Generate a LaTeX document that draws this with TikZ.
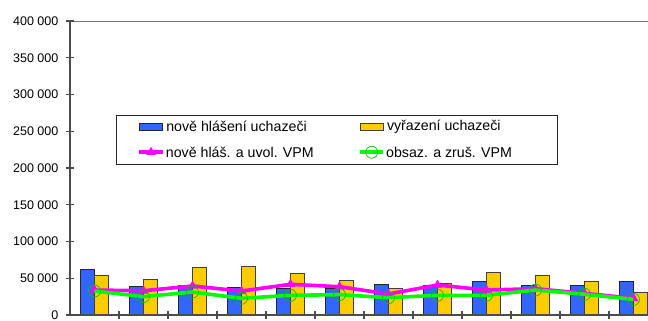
\documentclass[tikz,border=0pt]{standalone}
\usepackage{fontspec}
\setmainfont{Liberation Sans}
\usetikzlibrary{positioning, plotmarks}
\definecolor{barblue}{RGB}{51,102,255}
\definecolor{baryellow}{RGB}{255,204,0}
\definecolor{vpmpink}{RGB}{255,0,255}
\definecolor{vpmgreen}{RGB}{0,255,0}
\tikzset{
x=1pt, y=0.735pt, % one unit up is 1 000 people
font=\fontsize{12.5}{14}\selectfont, % Arial-like labels
blue bar/.style={draw=black!85, line width=0.8pt, fill=barblue},
yellow bar/.style={draw=black!75, line width=0.8pt, fill=baryellow},
axis line/.style={draw=black!70, line width=1.1pt},
pink line/.style={draw=vpmpink, line width=3.6pt, mark=triangle*, mark size=5pt,
  mark options={draw=vpmpink, fill=vpmpink, line width=0.4pt}},
green line/.style={draw=vpmgreen, line width=3.6pt, mark=o, mark size=6pt,
  mark options={draw=vpmgreen!75!black, line width=0.7pt}},
tick label/.style={anchor=east, inner sep=0pt},
key text/.style={anchor=west, inner sep=0pt, font=\fontsize{14.2}{16}\selectfont},
}

\begin{document}
\begin{tikzpicture}
  \useasboundingbox (-70,-6.8) rectangle (578,428.6);
  % bars, one group per month
  \foreach \k/\b/\z in {1/61.6/53.5, 2/38.5/48.0, 3/40.4/64.9, 4/37.7/66.3,
      5/36.3/56.2, 6/36.3/47.2, 7/41.8/35.8, 8/40.0/42.6, 9/46.3/58.1,
      10/39.9/53.5, 11/40.8/46.3, 12/45.3/30.9} {
    \draw[blue bar] ({49*\k-38.5},0) rectangle ({49*\k-24.5},\b);
    \draw[yellow bar] ({49*\k-24.5},0) rectangle ({49*\k-10.8},\z);
  }
  % axes
  \draw[black!55, line width=0.9pt] (0,400) -- (578,400);
  \draw[axis line] (0,0) -- (0,400);
  \draw[axis line] (0,0) -- (578,0);
  \foreach \v/\t in {0/0, 50/50 000, 100/100 000, 150/150 000, 200/200 000,
      250/250 000, 300/300 000, 350/350 000, 400/400 000} {
    \draw[axis line] (-4,\v) -- (4,\v);
    \node[tick label] (ylab\v) at (-11.5,\v) {\t};
  }
  \foreach \k in {1,...,11}
    \draw[axis line] ({49*\k},-5.4) -- ({49*\k},5.4);
  % lines
  \draw[pink line] plot coordinates {(24.5,34.0) (73.5,33.0) (122.5,39.5)
    (171.5,32.6) (220.5,41.8) (269.5,38.5) (318.5,28.6) (367.5,40.8)
    (416.5,34.0) (465.5,35.8) (514.5,29.5) (563.5,22.7)};
  \draw[green line] plot coordinates {(24.5,32.6) (73.5,25.0) (122.5,31.3)
    (171.5,22.7) (220.5,26.8) (269.5,27.7) (318.5,23.6) (367.5,26.8)
    (416.5,26.8) (465.5,34.0) (514.5,28.2) (563.5,21.3)};
  % legend
  \node[draw=black!85, line width=0.8pt, fill=white, minimum width=441pt,
    minimum height=49pt, anchor=north west, inner sep=0pt] (legend) at (45.7,272.8) {};
  \node[blue bar, minimum width=23.4pt, minimum height=6.7pt, inner sep=0pt] (keyblue) at (81,256.2) {};
  \node[key text, right=3pt of keyblue] (txtblue) {nově hlášení uchazeči};
  \node[yellow bar, minimum width=23.4pt, minimum height=6.7pt, inner sep=0pt] (keyyellow) at (301.7,256.2) {};
  \node[key text, right=3pt of keyyellow] (txtyellow) {vyřazení uchazeči};
  \coordinate (pinkL) at (69,221.4);
  \coordinate (pinkR) at (93,221.4);
  \draw[pink line, mark phase=2, mark repeat=3] plot coordinates {(pinkL) (81,221.4) (pinkR)};
  \node[key text, right=2.7pt of pinkR] (txtpink) {nově hláš. a uvol. VPM};
  \coordinate (greenL) at (290,221.4);
  \coordinate (greenR) at (313.3,221.4);
  \draw[green line, mark phase=2, mark repeat=3] plot coordinates {(greenL) (301.7,221.4) (greenR)};
  \node[key text, right=2.7pt of greenR] (txtgreen) {obsaz. a zruš. VPM};
\end{tikzpicture}
\end{document}
